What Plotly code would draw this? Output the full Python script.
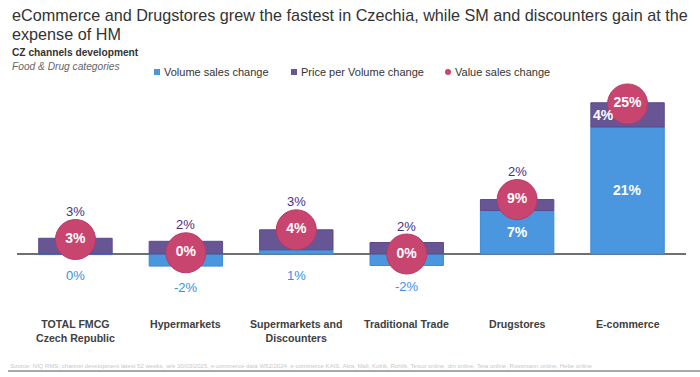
import plotly.graph_objects as go

categories = ["TOTAL FMCG<br>Czech Republic", "Hypermarkets", "Supermarkets and<br>Discounters",
              "Traditional Trade", "Drugstores", "E-commerce"]
volume_change = [-0.1, -2.0, 0.7, -1.9, 7.2, 21.0]
price_change = [2.6, 2.1, 3.3, 1.9, 1.8, 4.0]
value_change = [2.4, 0.2, 4.0, 0.0, 9.0, 24.8]
volume_labels = ["0%", "-2%", "1%", "-2%", "7%", "21%"]
price_labels = ["3%", "2%", "3%", "2%", "2%", "4%"]
value_labels = ["3%", "0%", "4%", "0%", "9%", "25%"]

BLUE = "#4A97E0"
PURPLE = "#685594"
PINK = "#C8456F"
PURPLE_TXT = "#4B2C86"
BLUE_TXT = "#3A8EDF"
FONT = "Liberation Sans, Arial, sans-serif"

W, H = 700, 377
PL, PR, PT, PB = 17, 686, 75, 300   # plot area in pixels
px_per = 6.05
zero_y = 254


def px(x):
    return (x - PL) / (PR - PL)


def py(y):
    return (PB - y) / (PB - PT)


fig = go.Figure()
fig.add_trace(go.Bar(x=categories, y=volume_change, name="Volume sales change",
                     marker=dict(color=BLUE, line=dict(color="#3C8AD8", width=1)),
                     showlegend=False, hoverinfo="skip"))
fig.add_trace(go.Bar(x=categories, y=price_change, name="Price per Volume change",
                     marker=dict(color=PURPLE, line=dict(color="#5B4A8A", width=1)),
                     showlegend=False, hoverinfo="skip"))
fig.add_trace(go.Scatter(x=categories, y=value_change, mode="markers+text", name="Value sales change",
                         marker=dict(size=40, color=PINK, line=dict(color="#B93A66", width=1)),
                         text=value_labels, textposition="middle center",
                         textfont=dict(family=FONT, size=14, color="white", weight="bold"),
                         showlegend=False, hoverinfo="skip"))

annotations = []
for c, v, p, val, vl, pl in zip(categories, volume_change, price_change, value_change,
                                 volume_labels, price_labels):
    if v > 5:
        annotations.append(dict(x=c, y=v / 2, text=vl, showarrow=False,
                                font=dict(family=FONT, size=14, color="white", weight="bold")))
    else:
        annotations.append(dict(x=c, y=min(v, 0), text=vl, showarrow=False, yshift=-21,
                                font=dict(family=FONT, size=13, color=BLUE_TXT)))
    if p > 3.5:
        annotations.append(dict(x=c, y=max(v, 0) + p / 2, text=pl, showarrow=False, xshift=-24,
                                font=dict(family=FONT, size=14, color="white", weight="bold")))
    else:
        annotations.append(dict(x=c, y=val, text=pl, showarrow=False, yshift=28,
                                font=dict(family=FONT, size=13, color=PURPLE_TXT)))
    annotations.append(dict(x=c, xref="x", y=0, yref="paper", yanchor="top", yshift=-16,
                            text="<b>" + c + "</b>", showarrow=False, align="center",
                            font=dict(family=FONT, size=10.6, color="#404040")))

title_anns = [
    dict(text="eCommerce and Drugstores grew the fastest in Czechia, while SM and discounters gain at the",
         x=10, y=15, size=16.2, color="#333333", bold=False, italic=False),
    dict(text="expense of HM", x=10, y=34, size=16.2, color="#333333", bold=False, italic=False),
    dict(text="CZ channels development", x=10, y=52, size=10.2, color="#333333", bold=True, italic=False),
    dict(text="Food & Drug categories", x=10, y=66, size=10.2, color="#666666", bold=False, italic=True),
]
for t in title_anns:
    txt = t["text"]
    if t["bold"]:
        txt = "<b>" + txt + "</b>"
    if t["italic"]:
        txt = "<i>" + txt + "</i>"
    annotations.append(dict(text=txt, x=px(t["x"]), y=py(t["y"]), xref="paper", yref="paper",
                            xanchor="left", yanchor="middle", showarrow=False, align="left",
                            font=dict(family=FONT, size=t["size"], color=t["color"])))

legend_items = [("Volume sales change", BLUE, "rect", 157),
                ("Price per Volume change", PURPLE, "rect", 294),
                ("Value sales change", PINK, "circle", 448)]
shapes = []
ly = 72
for name, col, sym, lx in legend_items:
    shapes.append(dict(type=sym, xref="paper", yref="paper",
                       x0=px(lx - 3), x1=px(lx + 3), y0=py(ly + 3), y1=py(ly - 3),
                       fillcolor=col, line=dict(width=0)))
    annotations.append(dict(text=name, x=px(lx + 5), y=py(ly), xref="paper", yref="paper",
                            xanchor="left", yanchor="middle", showarrow=False,
                            font=dict(family=FONT, size=11, color="#333333")))

annotations.append(dict(text="Source: NIQ RMS; channel development latest 52 weeks, w/e 30/03/2025, e-commerce data W52/2024, e-commerce KAIS: Alza, Mall, Košík, Rohlik, Tesco online, dm online, Teta online, Rossmann online, Hebe online",
                        x=px(8), y=py(366), xref="paper", yref="paper", xanchor="left", yanchor="middle",
                        showarrow=False, font=dict(family=FONT, size=6.05, color="#C8C8C8")))
shapes.append(dict(type="line", xref="paper", yref="paper", x0=px(8), x1=px(700), y0=py(371), y1=py(371),
                   line=dict(color="#8C8C8C", width=1.5)))
shapes.append(dict(type="line", xref="paper", yref="y", x0=0, x1=1, y0=0, y1=0, layer="below",
                   line=dict(color="#404040", width=1.5)))

fig.update_layout(
    width=W, height=H,
    margin=dict(l=PL, r=W - PR, t=PT, b=H - PB, autoexpand=False),
    barmode="relative", bargap=0.335,
    paper_bgcolor="white", plot_bgcolor="white",
    xaxis=dict(showticklabels=False, showgrid=False, zeroline=False, showline=False, ticks=""),
    yaxis=dict(range=[-(PB - zero_y) / px_per, (zero_y - PT) / px_per],
               showticklabels=False, showgrid=False, zeroline=False, showline=False),
    annotations=annotations, shapes=shapes,
    font=dict(family=FONT),
)

fig.write_html("out.html", config={"displayModeBar": False},
               post_script="document.body.style.margin='0';")
